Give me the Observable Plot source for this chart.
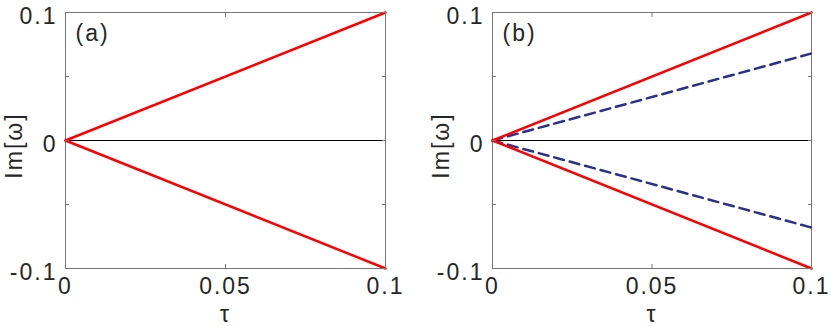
<!DOCTYPE html>
<html>
<head>
<meta charset="utf-8">
<script src="https://cdn.jsdelivr.net/npm/d3@7"></script>
<script src="https://cdn.jsdelivr.net/npm/@observablehq/plot@0.6"></script>
<style>
  html, body { margin: 0; padding: 0; background: white; }
  #wrap { display: flex; width: 831px; height: 326px; }
</style>
</head>
<body>
<div id="wrap"></div>
<script>
// ---- data ----
const tau = [0, 0.1];
const redUpper = [0, 0.1];
const redLower = [0, -0.1];
const blueUpper = [0, 0.068];
const blueLower = [0, -0.068];

const xTicks = [0, 0.05, 0.1];
const xTickLabels = ["0", "0.05", "0.1"];
const yTicksLabeled = [-0.1, 0, 0.1];
const yTickLabels = ["-0.1", "0", "0.1"];
const yTicksAll = [-0.1, -0.05, 0, 0.05, 0.1];

const panelNames = ["(a)", "(b)"];
const xLabel = "τ";
const yLabel = "Im[ω]";

const rows = (ys) => tau.map((t, i) => ({x: t, y: ys[i]}));

const RED = "#ff0000";
const BLUE = "#2b2f8e";
const AXIS = "#777777";
const TEXT = "#262626";

function panel(name, withBlue, width, marginLeft, marginRight) {
  const marks = [
    Plot.ruleY([0], {stroke: "black", strokeWidth: 1}),
    Plot.frame({stroke: AXIS, strokeWidth: 1}),
  ];
  if (withBlue) {
    marks.push(Plot.line(rows(blueUpper), {x: "x", y: "y", stroke: BLUE, strokeWidth: 2.5, strokeDasharray: "10,6"}));
    marks.push(Plot.line(rows(blueLower), {x: "x", y: "y", stroke: BLUE, strokeWidth: 2.5, strokeDasharray: "10,6"}));
  }
  marks.push(
    Plot.line(rows(redUpper), {x: "x", y: "y", stroke: RED, strokeWidth: 2.5}),
    Plot.line(rows(redLower), {x: "x", y: "y", stroke: RED, strokeWidth: 2.5}),
    // inward ticks
    Plot.axisY({anchor: "left", ticks: yTicksAll, tickSize: -4, tickFormat: () => "", label: null, stroke: AXIS}),
    Plot.axisY({anchor: "right", ticks: yTicksAll, tickSize: -4, tickFormat: () => "", label: null, stroke: AXIS}),
    Plot.axisX({anchor: "bottom", ticks: xTicks, tickSize: -4, tickFormat: () => "", label: null, stroke: AXIS}),
    Plot.axisX({anchor: "top", ticks: xTicks, tickSize: -4, tickFormat: () => "", label: null, stroke: AXIS}),
    // tick labels
    Plot.axisY({anchor: "left", ticks: yTicksLabeled, tickSize: 0, tickPadding: 8, dy: 4,
      tickFormat: d => yTickLabels[yTicksLabeled.indexOf(d)], label: null, color: TEXT}),
    Plot.axisX({anchor: "bottom", ticks: xTicks, tickSize: 0, tickPadding: 9,
      tickFormat: d => xTickLabels[xTicks.indexOf(d)], label: null, color: TEXT}),
    // axis titles and panel label
    Plot.text([xLabel], {frameAnchor: "bottom", dy: 46, lineAnchor: "middle", textAnchor: "middle", fill: TEXT}),
    Plot.text([yLabel], {frameAnchor: "left", rotate: -90, dx: -51, dy: 5, lineAnchor: "middle", textAnchor: "middle", fill: TEXT}),
    Plot.text([name], {frameAnchor: "top-left", dx: 10, dy: 12, lineAnchor: "top", textAnchor: "start", fill: TEXT})
  );
  return Plot.plot({
    width, height: 326,
    marginLeft, marginRight, marginTop: 12, marginBottom: 58,
    x: {domain: [0, 0.1]},
    y: {domain: [-0.1, 0.1]},
    style: {fontFamily: "'Liberation Sans', Arial, sans-serif", fontSize: "23px", letterSpacing: "2px", background: "white", overflow: "visible"},
    marks
  });
}

const wrap = document.getElementById("wrap");
wrap.appendChild(panel(panelNames[0], false, 415, 65, 30));
wrap.appendChild(panel(panelNames[1], true, 416, 77, 20));
</script>
</body>
</html>
